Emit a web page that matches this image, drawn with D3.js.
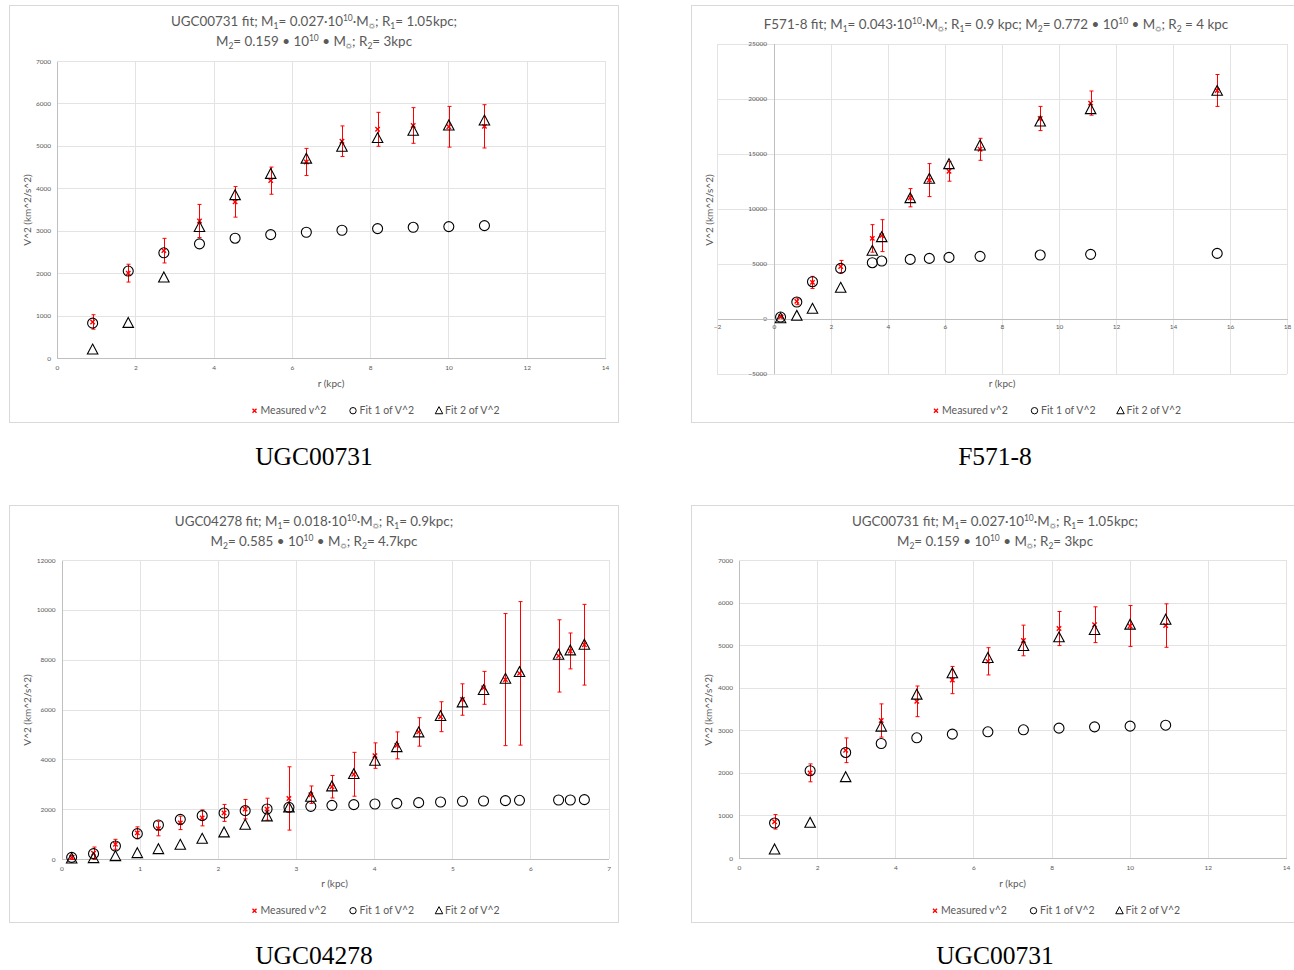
<!DOCTYPE html>
<html><head><meta charset="utf-8">
<script src="https://cdn.jsdelivr.net/npm/d3@7"></script>
<style>
body{margin:0;background:#fff;}
svg{display:block;}
</style></head>
<body>
<script>
// ---------- DATA ----------
const ugc731_r        = [0.91,1.82,2.73,3.64,4.55,5.46,6.37,7.28,8.19,9.10,10.01,10.92];
const ugc731_measured = [850,2000,2530,3230,3680,4180,4620,5110,5390,5480,5450,5460];
const ugc731_err      = [170,210,290,390,360,320,320,360,400,420,480,510];
const ugc731_fit1     = [821,2049,2479,2690,2823,2909,2964,3011,3050,3081,3097,3120];
const ugc731_fit2     = [195,821,1893,3081,3832,4333,4693,4974,5178,5350,5475,5592];
const ugc731_xTicks   = [0,2,4,6,8,10,12,14];
const ugc731_yTicks   = [0,1000,2000,3000,4000,5000,6000,7000];

const f571_r        = [0.23,0.80,1.35,2.34,3.45,3.78,4.78,5.45,6.14,7.23,9.34,11.11,15.55];
const f571_measured = [180,1576,3300,4750,7300,7550,11000,12600,13400,15400,18200,19600,20750];
const f571_err      = [100,300,550,550,1250,1450,830,1500,900,1000,1100,1100,1450];
const f571_fit1     = [150,1515,3363,4575,5090,5242,5393,5484,5575,5666,5787,5848,5939];
const f571_fit2     = [20,242,879,2788,6150,7393,10938,12696,14029,15726,17907,19028,20695];
const f571_xTicks   = [-2,0,2,4,6,8,10,12,14,16,18];
const f571_yTicks   = [-5000,0,5000,10000,15000,20000,25000];

const ugc4278_r        = [0.13,0.41,0.69,0.97,1.24,1.52,1.80,2.08,2.35,2.63,2.91,3.19,3.46,3.74,4.01,4.29,4.57,4.85,5.13,5.40,5.68,5.86,6.36,6.51,6.69];
const ugc4278_measured = [60,230,590,1050,1220,1450,1650,1850,2000,2000,2430,2580,2900,3400,4150,4560,5100,5710,6400,6870,7200,7450,8150,8350,8600];
const ugc4278_err      = [80,250,200,240,290,270,320,340,390,440,1270,350,450,880,510,540,570,600,630,660,2650,2880,1450,720,1620];
const ugc4278_fit1     = [67,214,522,1017,1365,1592,1739,1846,1940,2007,2074,2114,2154,2181,2208,2234,2261,2288,2315,2328,2341,2355,2368,2368,2382];
const ugc4278_fit2     = [10,27,107,227,388,562,803,1057,1365,1700,2060,2489,2903,3399,3934,4482,5071,5727,6275,6770,7225,7493,8189,8363,8590];
const ugc4278_xTicks   = [0,1,2,3,4,5,6,7];
const ugc4278_yTicks   = [0,2000,4000,6000,8000,10000,12000];

const legendLabels = ["Measured v^2","Fit 1 of V^2","Fit 2 of V^2"];
const xAxisTitle = "r (kpc)";
const yAxisTitle = "V^2 (km^2/s^2)";
const captions = ["UGC00731","F571-8","UGC04278","UGC00731"];

// title segments: [text, type] type: n normal, b sub, p sup
const titleUGC731 = [
  [["UGC00731 fit; M","n"],["1","b"],["= 0.027·10","n"],["10","p"],["·M","n"],["☼","b"],["; R","n"],["1","b"],["= 1.05kpc;","n"]],
  [["M","n"],["2","b"],["= 0.159 • 10","n"],["10","p"],[" • M","n"],["☼","b"],["; R","n"],["2","b"],["= 3kpc","n"]]
];
const titleF571 = [
  [["F571-8 fit; M","n"],["1","b"],["= 0.043·10","n"],["10","p"],["·M","n"],["☼","b"],["; R","n"],["1","b"],["= 0.9 kpc; M","n"],["2","b"],["= 0.772 • 10","n"],["10","p"],[" • M","n"],["☼","b"],["; R","n"],["2","b"],[" = 4 kpc","n"]]
];
const titleUGC4278 = [
  [["UGC04278 fit; M","n"],["1","b"],["= 0.018·10","n"],["10","p"],["·M","n"],["☼","b"],["; R","n"],["1","b"],["= 0.9kpc;","n"]],
  [["M","n"],["2","b"],["= 0.585 • 10","n"],["10","p"],[" • M","n"],["☼","b"],["; R","n"],["2","b"],["= 4.7kpc","n"]]
];

// ---------- LAYOUT ----------
const W = 1294, H = 970;
const FONT = "Lato, 'Open Sans', sans-serif";
const TXT = "#595959";
const svg = d3.select("body").append("svg").attr("width", W).attr("height", H);

const panels = [
  {box:[9.5,5.5,609,417], plot:[57,605,61,358], xd:[0,14], yd:[0,7000], xt:ugc731_xTicks, yt:ugc731_yTicks,
   r:ugc731_r, m:ugc731_measured, e:ugc731_err, f1:ugc731_fit1, f2:ugc731_fit2, title:titleUGC731, tx:314, ty:[26,45.5],
   xtitle:[331,386.5], ytitle:[27.5,210], leg:[254.5,410.7], cap:[314,465], cross:false},
  {box:[691.5,5.5,603,417], plot:[717,1287,43.7,373.7], xd:[-2,18], yd:[-5000,25000], xt:f571_xTicks, yt:f571_yTicks,
   r:f571_r, m:f571_measured, e:f571_err, f1:f571_fit1, f2:f571_fit2, title:titleF571, tx:996, ty:[29],
   xtitle:[1002,386.5], ytitle:[709,210], leg:[936,410.7], cap:[995,465], cross:true},
  {box:[9.5,505.5,609,417], plot:[61.5,608.6,560,859], xd:[0,7], yd:[0,12000], xt:ugc4278_xTicks, yt:ugc4278_yTicks,
   r:ugc4278_r, m:ugc4278_measured, e:ugc4278_err, f1:ugc4278_fit1, f2:ugc4278_fit2, title:titleUGC4278, tx:314, ty:[526,545.5],
   xtitle:[334.5,886.5], ytitle:[27.5,710], leg:[254.5,910.7], cap:[314,964], cross:false},
  {box:[691.5,505.5,603,417], plot:[739,1286,560,858], xd:[0,14], yd:[0,7000], xt:ugc731_xTicks, yt:ugc731_yTicks,
   r:ugc731_r, m:ugc731_measured, e:ugc731_err, f1:ugc731_fit1, f2:ugc731_fit2, title:titleUGC731, tx:995, ty:[526,545.5],
   xtitle:[1012.6,886.5], ytitle:[708.5,710], leg:[935,910.7], cap:[995,964], cross:false}
];

function xMark(g, x, y, s, col){
  g.append("path").attr("d", `M${x-s},${y-s}L${x+s},${y+s}M${x-s},${y+s}L${x+s},${y-s}`)
   .attr("stroke", col).attr("stroke-width", 1.4).attr("fill","none");
}
function triPath(x, y, s){
  const h = s*0.9;
  return `M${x},${y-h*0.6}L${x+s/2},${y+h*0.45}L${x-s/2},${y+h*0.45}Z`;
}

panels.forEach((p, pi) => {
  const g = svg.append("g");
  // panel border
  g.append("rect").attr("x",p.box[0]).attr("y",p.box[1]).attr("width",p.box[2]).attr("height",p.box[3])
   .attr("fill","#fff").attr("stroke","#d9d9d9").attr("stroke-width",1);

  const x = d3.scaleLinear().domain(p.xd).range([p.plot[0], p.plot[1]]);
  const y = d3.scaleLinear().domain(p.yd).range([p.plot[3], p.plot[2]]);

  // gridlines via axes
  const gx = g.append("g").attr("transform",`translate(0,${p.plot[3]})`)
    .call(d3.axisBottom(x).tickValues(p.xt).tickSize(-(p.plot[3]-p.plot[2])).tickFormat(""));
  gx.select(".domain").remove();
  gx.selectAll("line").attr("stroke","#e3e3e3").attr("stroke-width",1).attr("shape-rendering","crispEdges");
  const gy = g.append("g").attr("transform",`translate(${p.plot[0]},0)`)
    .call(d3.axisLeft(y).tickValues(p.yt).tickSize(-(p.plot[1]-p.plot[0])).tickFormat(""));
  gy.select(".domain").remove();
  gy.selectAll("line").attr("stroke","#e3e3e3").attr("stroke-width",1).attr("shape-rendering","crispEdges");

  // axis lines & labels
  const ax0 = p.cross ? x(0) : p.plot[0];
  const ay0 = p.cross ? y(0) : p.plot[3];
  const yA = g.append("g").attr("transform",`translate(${ax0},0)`)
    .call(d3.axisLeft(y).tickValues(p.yt).tickSize(0).tickPadding(p.cross?7:6).tickFormat(d3.format("d")));
  yA.select(".domain").attr("stroke","#bfbfbf").attr("shape-rendering","crispEdges");
  yA.selectAll("text").attr("font-family",FONT).attr("font-size",6.5).attr("fill",TXT);
  const xA = g.append("g").attr("transform",`translate(0,${ay0})`)
    .call(d3.axisBottom(x).tickValues(p.xt).tickSize(0).tickPadding(p.cross?6:7).tickFormat(d3.format("d")));
  xA.select(".domain").attr("stroke","#bfbfbf").attr("shape-rendering","crispEdges");
  xA.selectAll("text").attr("font-family",FONT).attr("font-size",6.5).attr("fill",TXT);

  // title
  p.title.forEach((line, li) => {
    const t = g.append("text").attr("x",p.tx).attr("y",p.ty[li]).attr("text-anchor","middle")
      .attr("font-family",FONT).attr("font-size",13.4).attr("fill",TXT);
    let prev = 0;
    line.forEach(([s, k]) => {
      const ts = t.append("tspan").text(s);
      if (k === "b") ts.attr("font-size", s==="☼"?8:8.5);
      else if (k === "p") ts.attr("font-size",8.5);
      const cur = k==="b"?3:(k==="p"?-5:0);
      ts.attr("dy", cur - prev);
      prev = cur;
    });
  });

  // axis titles
  g.append("text").attr("x",p.xtitle[0]).attr("y",p.xtitle[1]).attr("text-anchor","middle")
   .attr("font-family",FONT).attr("font-size",10).attr("fill",TXT).text(xAxisTitle);
  g.append("text").attr("transform",`translate(${p.ytitle[0]+3.5},${p.ytitle[1]}) rotate(-90)`).attr("text-anchor","middle")
   .attr("font-family",FONT).attr("font-size",10).attr("fill",TXT).text(yAxisTitle);

  // data
  const pts = p.r.map((r,i)=>({r, m:p.m[i], e:p.e[i], f1:p.f1[i], f2:p.f2[i]}));
  const dg = g.append("g");
  // error bars
  pts.forEach(d=>{
    const cx = Math.round(x(d.r)) + 0.5, y1 = y(d.m + d.e), y2 = y(d.m - d.e);
    dg.append("line").attr("x1",cx).attr("x2",cx).attr("y1",y1).attr("y2",y2).attr("stroke","#ff0000").attr("stroke-width",1);
    dg.append("line").attr("x1",cx-2).attr("x2",cx+2).attr("y1",y1).attr("y2",y1).attr("stroke","#ff0000").attr("stroke-width",1);
    dg.append("line").attr("x1",cx-2).attr("x2",cx+2).attr("y1",y2).attr("y2",y2).attr("stroke","#ff0000").attr("stroke-width",1);
  });
  pts.forEach(d=> xMark(dg, x(d.r), y(d.m), 2.2, "#ff0000"));
  dg.selectAll("circle.f1").data(pts).join("circle").attr("class","f1")
    .attr("cx",d=>x(d.r)).attr("cy",d=>y(d.f1)).attr("r",5)
    .attr("fill","none").attr("stroke","#000").attr("stroke-width",1.1);
  dg.selectAll("path.f2").data(pts).join("path").attr("class","f2")
    .attr("d",d=>triPath(x(d.r), y(d.f2), 10.5))
    .attr("fill","none").attr("stroke","#000").attr("stroke-width",1.1);

  // legend
  const lx = p.leg[0], ly = p.leg[1];
  xMark(g, lx, ly, 2, "#ff0000");
  g.append("circle").attr("cx",lx+98.5).attr("cy",ly).attr("r",3.2).attr("fill","none").attr("stroke","#000").attr("stroke-width",1);
  g.append("path").attr("d",triPath(lx+184.5, ly, 7.5)).attr("fill","none").attr("stroke","#000").attr("stroke-width",1);
  [6, 105, 190.5].forEach((dx,i)=>{
    g.append("text").attr("x",lx+dx).attr("y",ly+3.6).attr("font-family",FONT).attr("font-size",10.5)
     .attr("fill",TXT).text(legendLabels[i]);
  });

  // caption
  svg.append("text").attr("x",p.cap[0]).attr("y",p.cap[1]).attr("text-anchor","middle")
    .attr("font-family","'Liberation Serif', 'DejaVu Serif', serif").attr("font-size",25.5).attr("fill","#000")
    .text(captions[pi]);
});
</script>
</body></html>
